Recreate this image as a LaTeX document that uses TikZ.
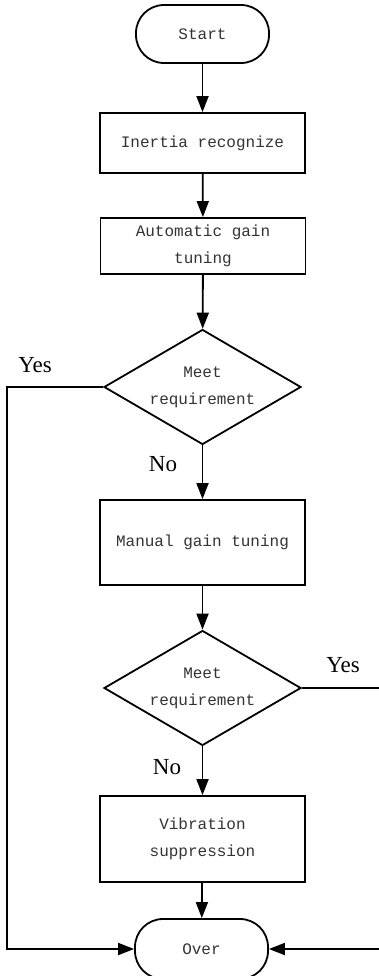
\documentclass[tikz,border=0pt]{standalone}
\usepackage{fontspec}
\setmainfont{Liberation Serif}
\setmonofont{Liberation Mono}
\usetikzlibrary{arrows.meta,shapes.geometric}

\begin{document}
\begin{tikzpicture}[x=1pt,y=1pt,>={Triangle[length=16pt,width=12pt]},line width=1.8pt,
  term/.style={draw,rounded corners=28pt,minimum width=133pt,minimum height=58pt,font=\ttfamily\fontsize{16}{27}\selectfont,text=black!80},
  proc/.style={draw,align=center,minimum width=205pt,font=\ttfamily\fontsize{16}{27}\selectfont,text=black!80},
  decide/.style={draw,diamond,align=center,inner sep=0pt,shape aspect=1.73,minimum width=197pt,minimum height=115pt,font=\ttfamily\fontsize{16}{27}\selectfont,text=black!80},
  lbl/.style={font=\fontsize{23}{25}\selectfont}]
\useasboundingbox (0,0) rectangle (379,-976);
\node[term] (start) at (202.5,-34) {Start};
\node[proc,minimum height=60pt] (inertia) at (202.5,-143) {Inertia recognize};
\node[proc,minimum height=56pt] (auto) at (203,-246) {Automatic gain\\tuning};
\node[decide] (dec1) at (202.5,-387) {Meet\\requirement};
\node[proc,minimum height=85pt] (manual) at (202.5,-542.5) {Manual gain tuning};
\node[decide] (dec2) at (202.5,-688) {Meet\\requirement};
\node[proc,minimum height=86pt] (vib) at (202.5,-839) {Vibration\\suppression};
\node[term,minimum height=60pt] (over) at (201.5,-949) {Over};
\coordinate (lft) at (7,-387);
\coordinate (rgt) at (386,-688);
\node[lbl] (yes1) at (35,-365) {Yes};
\node[lbl] (no1) at (163,-464) {No};
\node[lbl] (yes2) at (343,-665) {Yes};
\node[lbl] (no2) at (167,-767) {No};
\draw[->] (start)--(inertia);\draw[->] (inertia)--(auto);\draw[->] (auto)--(dec1);
\draw[->] (dec1)--(manual);\draw[->] (manual)--(dec2);\draw[->] (dec2)--(vib);\draw[->] (vib)--(over);
\draw[->] (dec1.west)--(lft)|-(over.west);
\draw[->] (dec2.east)--(rgt)|-(over.east);
\end{tikzpicture}
\end{document}
